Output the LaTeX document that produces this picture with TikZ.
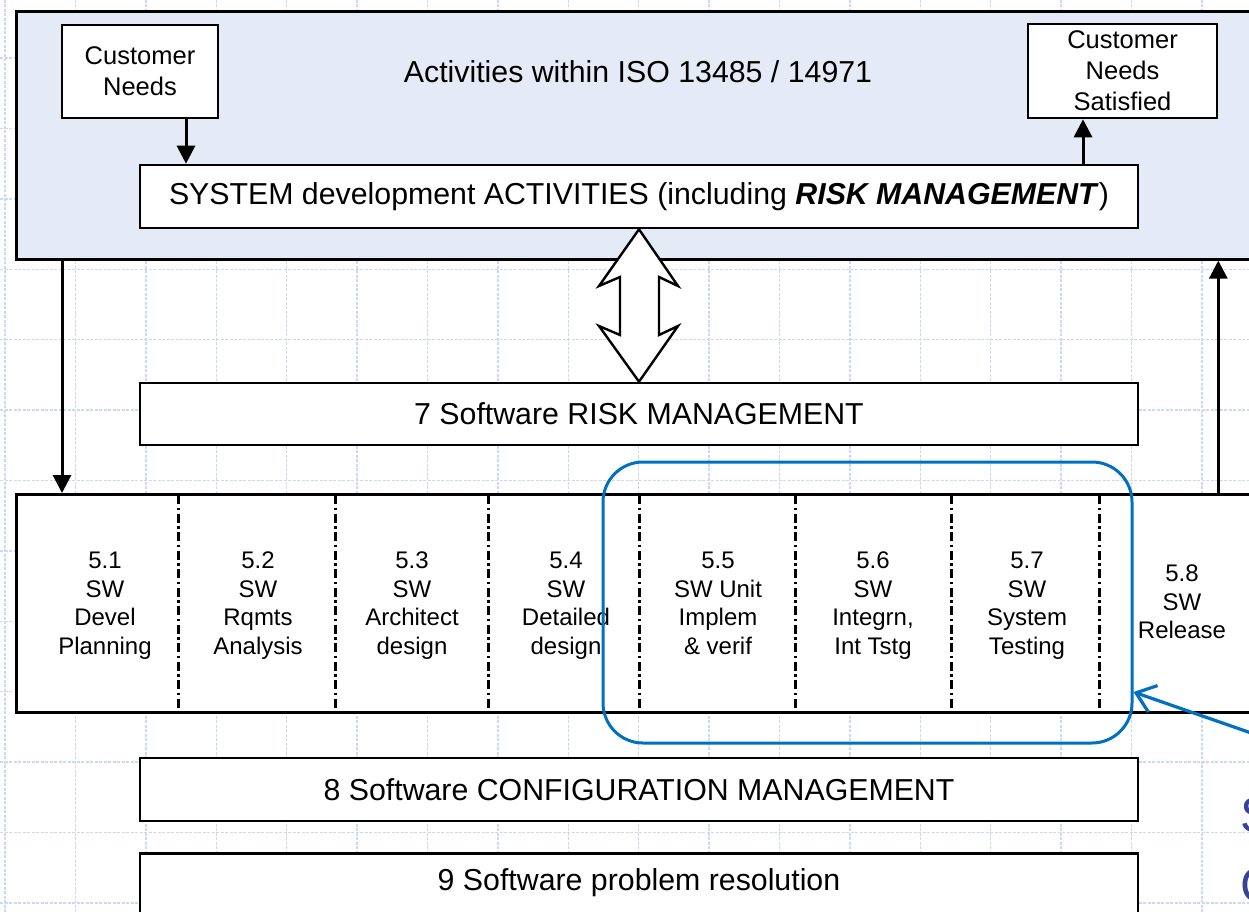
\documentclass[tikz,border=0pt]{standalone}
\usepackage{fontspec}
\setmainfont{Liberation Sans}
\usetikzlibrary{arrows.meta}
\definecolor{panelfill}{RGB}{228,234,246}
\definecolor{gridc}{RGB}{206,216,246}
\definecolor{hilite}{RGB}{0,112,192}
\definecolor{notec}{RGB}{58,66,148}
\begin{document}
\begin{tikzpicture}[x=1pt,y=-1pt,
  gridline/.style={gridc, line width=1.4pt, dash pattern=on 3pt off 1.5pt},
  box/.style={draw=black, fill=white, line width=2.6pt, inner sep=0pt, align=center},
  panelbox/.style={draw=black, fill=panelfill, line width=2.6pt, inner sep=0pt},
  bigtxt/.style={font=\fontsize{30.3}{36}\selectfont},
  smalltxt/.style={font=\fontsize{25.5}{30.8}\selectfont},
  coltxt/.style={font=\fontsize{24}{28.5}\selectfont, align=center, inner sep=0pt},
  arr/.style={line width=3pt, -{Triangle[length=18pt,width=18pt]}},
  divider/.style={line width=3pt, dash pattern=on 9pt off 3.5pt on 2.5pt off 3.5pt},
  focusbox/.style={draw=hilite, line width=3pt, rounded corners=40pt, inner sep=0pt},
  bluearr/.style={hilite, line width=3.2pt, -{Straight Barb[length=18pt,width=28pt,line width=3.2pt]}},
  notetxt/.style={text=notec, font=\fontsize{50}{60}\selectfont, inner sep=0pt, anchor=west}
]
\useasboundingbox (0,0) rectangle (1249,912);
\clip (0,0) rectangle (1249,912);

% background grid
\foreach \i in {0,...,17} \draw[gridline] ({5+70.4*\i},0) -- ({5+70.4*\i},912);
\foreach \j in {-1,...,12} \draw[gridline] (0,{58+70.4*\j}) -- (1249,{58+70.4*\j});

% system level panel
\node[panelbox, anchor=north west, minimum width=1250pt, minimum height=248pt] (panel) at (15,10) {};
\node[bigtxt] (title) at (638,72) {Activities within ISO 13485 / 14971};
\node[box, smalltxt, minimum width=156pt, minimum height=93pt] (cn) at (140,71.5) {Customer\\Needs};
\node[box, smalltxt, minimum width=189pt, minimum height=94pt] (cns) at (1122.5,71) {Customer\\Needs\\Satisfied};
\node[box, bigtxt, minimum width=998pt, minimum height=63pt] (sys) at (639,196.5)
  {SYSTEM development ACTIVITIES (including \textbf{\textit{RISK MANAGEMENT}})};

\draw[arr] ([xshift=46pt]cn.south) -- ([xshift=46pt]cn.south |- sys.north);
\draw[arr] ([xshift=-39.5pt]cns.south |- sys.north) -- ([xshift=-39.5pt]cns.south);

% software risk management and the link to system risk management
\node[box, bigtxt, minimum width=998pt, minimum height=62pt] (rm) at (639,414) {7 Software RISK MANAGEMENT};
\draw[line width=2.4pt, fill=white, line join=miter]
  (sys.south) -- (678,286) -- (659,277) -- (659,335) -- (678,326) -- (rm.north)
  -- (599,326) -- (620,335) -- (620,277) -- (599,286) -- cycle;

% software development process row
\node[box, anchor=north west, minimum width=1250pt, minimum height=218pt] (sw) at (15,493) {};
\foreach \x in {178,335,488,639,795,951,1099}
  \draw[divider] (\x,495) -- (\x,711);

\node[coltxt] (c1) at (105,605.5) {5.1\\SW\\Devel\\Planning};
\node[coltxt] (c2) at (258,605.5) {5.2\\SW\\Rqmts\\Analysis};
\node[coltxt] (c3) at (412,605.5) {5.3\\SW\\Architect\\design};
\node[coltxt] (c4) at (566,605.5) {5.4\\SW\\Detailed\\design};
\node[coltxt] (c5) at (718,605.5) {5.5\\SW Unit\\Implem\\\& verif\vphantom{g}};
\node[coltxt] (c6) at (873,605.5) {5.6\\SW\\Integrn,\\Int Tstg};
\node[coltxt] (c7) at (1027,605.5) {5.7\\SW\\System\\Testing};
\node[coltxt] (c8) at (1182,604.5) {5.8\\SW\\Release\vphantom{g}};

\draw[arr] ([xshift=47pt]panel.south west) -- ([xshift=47pt]panel.south west |- sw.north);
\draw[arr] (cns.south east |- sw.north) -- (cns.south east |- panel.south);

% supporting processes
\node[box, bigtxt, minimum width=998pt, minimum height=63pt] (cm) at (639,789.5) {8 Software CONFIGURATION MANAGEMENT};
\node[box, anchor=north, minimum width=998pt, minimum height=90pt] (pr) at (639,852) {};
\node[bigtxt] (prt) at (639,883) {9 Software problem resolution};

% highlighted group of activities
\node[focusbox, minimum width=529pt, minimum height=281pt] (focus) at (867.5,602.5) {};
\coordinate (tail) at (1300,750);
\draw[bluearr] (tail) -- (focus.east |- 0,692);
\node[notetxt] (n1) at (1240,815) {S};
\node[notetxt] (n2) at (1240,885) {C};
\end{tikzpicture}
\end{document}
